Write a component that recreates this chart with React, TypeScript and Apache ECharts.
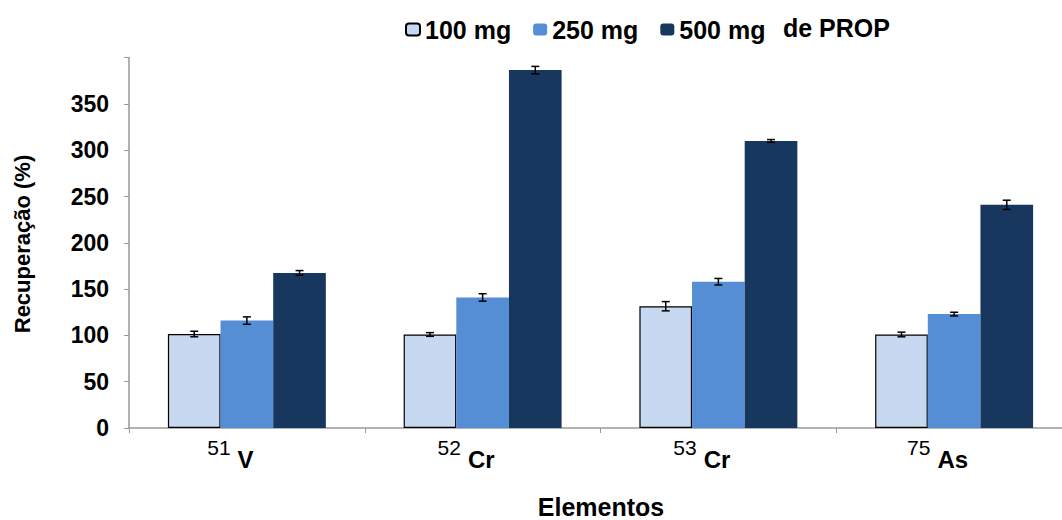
import React, { useEffect, useRef } from 'react';
import * as echarts from 'echarts';

const masses = ['51', '52', '53', '75'];
const elements = ['V', 'Cr', 'Cr', 'As'];
const categories = ['51V', '52Cr', '53Cr', '75As'];
const seriesNames = ['100 mg', '250 mg', '500 mg'];
const values100 = [101.5, 101, 131.5, 101];
const errors100 = [3, 2, 5, 2.5];
const values250 = [116, 141, 158, 123];
const errors250 = [4, 4, 3.5, 2];
const values500 = [167.5, 386.5, 310, 241];
const errors500 = [2.5, 4, 1.5, 5];
const yTicks = [0, 50, 100, 150, 200, 250, 300, 350];

const FONT = '"Liberation Sans", Arial, sans-serif';
const colors = ['#C6D9F1', '#558ED5', '#17375E'];
const GAP = 0.33;

export default function App() {
  const ref = useRef<HTMLDivElement>(null);
  useEffect(() => {
    if (!ref.current) return;
    const chart = echarts.init(ref.current, undefined, { renderer: 'svg' });
    const vals = [values100, values250, values500];
    const errs = [errors100, errors250, errors500];

    const barSeries = seriesNames.map((name, k) => ({
      name,
      type: 'bar',
      data: vals[k],
      barGap: '0%',
      barCategoryGap: '33%',
      itemStyle: k === 0
        ? { color: colors[k], borderColor: '#000', borderWidth: 1.2 }
        : { color: colors[k] },
    }));

    const errSeries = seriesNames.map((name, k) => ({
      name: 'err ' + name,
      type: 'custom',
      z: 10,
      data: vals[k].map((v, i) => [i, v, errs[k][i]]),
      encode: { x: 0, y: 1 },
      renderItem: (params: any, api: any) => {
        const ci = api.value(0);
        const v = api.value(1);
        const e = api.value(2);
        const catW = api.size([1, 0])[0];
        const bw = (catW * (1 - GAP)) / 3;
        const x = api.coord([ci, v])[0] + (k - 1) * bw;
        const yTop = api.coord([ci, v + e])[1];
        const yBot = api.coord([ci, v - e])[1];
        const hw = 4;
        const st = { stroke: '#000', lineWidth: 1.5 };
        return {
          type: 'group',
          children: [
            { type: 'line', shape: { x1: x, y1: yTop, x2: x, y2: yBot }, style: st },
            { type: 'line', shape: { x1: x - hw, y1: yTop, x2: x + hw, y2: yTop }, style: st },
            { type: 'line', shape: { x1: x - hw, y1: yBot, x2: x + hw, y2: yBot }, style: st },
          ],
        };
      },
    }));

    chart.setOption({
      animation: false,
      backgroundColor: '#fff',
      grid: { left: 129, top: 57.6, width: 943, height: 370.4, containLabel: false, outerBoundsMode: 'none' },
      legend: {
        data: seriesNames,
        left: 400,
        top: 12,
        itemWidth: 14,
        itemHeight: 12,
        itemGap: 22,
        textStyle: { fontFamily: FONT, fontWeight: 'bold', fontSize: 25, color: '#000' },
      },
      xAxis: {
        type: 'category',
        data: categories,
        axisLine: { lineStyle: { color: '#999', width: 1.5 } },
        axisTick: { show: true, length: 5, lineStyle: { color: '#999' } },
        axisLabel: {
          margin: 14,
          formatter: (_v: string, i: number) => `{sup|${masses[i]}}{el|${elements[i]}}`,
          rich: {
            sup: {
              fontFamily: FONT, fontSize: 21, color: '#000', lineHeight: 21,
              padding: [0, 0, 13, 0],
            },
            el: {
              fontFamily: FONT, fontSize: 24, fontWeight: 'bold', color: '#000',
              lineHeight: 24, padding: [11, 33, 0, 7],
            },
          },
        },
      },
      yAxis: {
        type: 'value',
        min: 0,
        max: 400,
        interval: 50,
        splitLine: { show: false },
        axisLine: { show: true, lineStyle: { color: '#999', width: 1.5 } },
        axisTick: { show: true, length: 5, lineStyle: { color: '#999' } },
        axisLabel: {
          margin: 20,
          fontFamily: FONT,
          fontWeight: 'bold',
          fontSize: 23,
          color: '#000',
          formatter: (v: number) => (yTicks.includes(v) ? String(v) : ''),
        },
      },
      graphic: [
        {
          type: 'text',
          x: 22,
          y: 244,
          rotation: Math.PI / 2,
          style: {
            text: 'Recuperação (%)',
            fontFamily: FONT, fontWeight: 'bold', fontSize: 22, fill: '#000',
            textAlign: 'center', textVerticalAlign: 'middle',
          },
        },
        {
          type: 'text',
          x: 601,
          y: 507,
          style: {
            text: 'Elementos',
            fontFamily: FONT, fontWeight: 'bold', fontSize: 25, fill: '#000',
            textAlign: 'center', textVerticalAlign: 'middle',
          },
        },
        {
          type: 'text',
          x: 783,
          y: 28,
          style: {
            text: 'de PROP',
            fontFamily: FONT, fontWeight: 'bold', fontSize: 25, fill: '#000',
            textAlign: 'left', textVerticalAlign: 'middle',
          },
        },
      ],
      series: [...barSeries, ...errSeries],
    });
    return () => chart.dispose();
  }, []);
  return <div ref={ref} style={{ position: 'fixed', left: 0, top: 0, width: 1062, height: 520 }} />;
}
